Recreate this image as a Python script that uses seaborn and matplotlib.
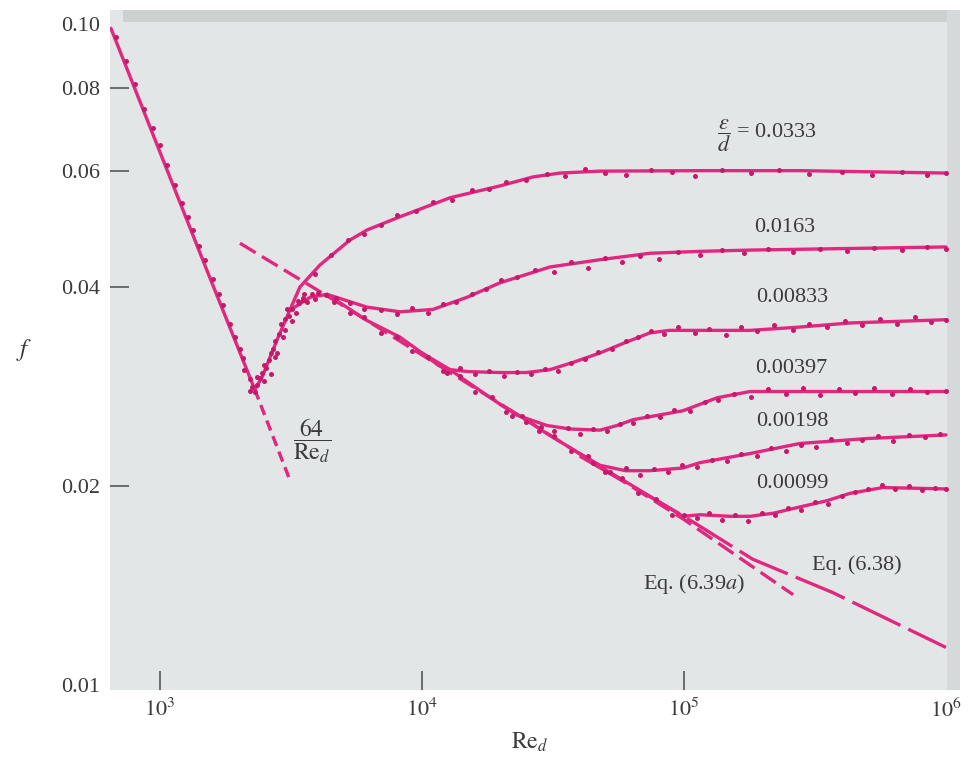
import matplotlib
matplotlib.use("Agg")
import matplotlib.pyplot as plt
from matplotlib.patches import Rectangle
import seaborn as sns

# ---- curves (Re_d, f) ----
lam_re = [650, 1000, 1500, 2300]
lam_f = [0.0985, 0.0640, 0.0427, 0.0280]
lam_ext_re = [2300, 3150]
lam_ext_f = [0.0280, 0.0203]

trans_re = [2300, 2450, 2800, 3130, 3740, 4340]
trans_f = [0.0280, 0.0292, 0.0333, 0.0369, 0.0386, 0.0390]

rough0333_re = [3130, 3420, 4080, 5300, 6170, 8240, 12800, 19850, 26500, 33600, 47800, 115000, 280000, 1000000]
rough0333_f = [0.0369, 0.0400, 0.0432, 0.0471, 0.0488, 0.0511, 0.0546, 0.0569, 0.0587, 0.0595, 0.0599, 0.0600, 0.0600, 0.0595]

rough0163_re = [4340, 6170, 8240, 11000, 14850, 19850, 30800, 47800, 74100, 115000, 178600, 1000000]
rough0163_f = [0.0390, 0.0373, 0.0367, 0.0370, 0.0386, 0.0406, 0.0429, 0.0440, 0.0450, 0.0453, 0.0455, 0.0460]

smooth_re = [4340, 5000, 6170, 8240, 10000, 12800, 15000, 19850, 25000, 30000, 40000, 47800, 60000, 74100, 99100]
smooth_f = [0.0390, 0.0376, 0.0356, 0.0336, 0.0318, 0.0300, 0.0287, 0.0266, 0.0252, 0.0240, 0.0224, 0.0214, 0.0203, 0.0193, 0.0180]

rough00833_re = [10000, 11500, 12800, 15000, 19850, 25000, 30800, 38000, 47800, 60000, 74100, 88000, 133700, 178600, 277300, 430400, 1000000]
rough00833_f = [0.0318, 0.0305, 0.0300, 0.0298, 0.0297, 0.0297, 0.0300, 0.0308, 0.0318, 0.0330, 0.0341, 0.0344, 0.0344, 0.0344, 0.0348, 0.0353, 0.0357]

rough00397_re = [19850, 23070, 30000, 36700, 47800, 55500, 63900, 99100, 133700, 178600, 370700, 1000000]
rough00397_f = [0.0266, 0.0256, 0.0247, 0.0244, 0.0243, 0.0247, 0.0252, 0.0260, 0.0272, 0.0278, 0.0278, 0.0278]

rough00198_re = [40000, 47800, 60000, 74100, 99100, 115100, 178600, 277300, 499000, 1000000]
rough00198_f = [0.0224, 0.0215, 0.0211, 0.0211, 0.0213, 0.0217, 0.0224, 0.0232, 0.0236, 0.0239]

rough00099_re = [99100, 115100, 150000, 178600, 220000, 277300, 350000, 430400, 575000, 1000000]
rough00099_f = [0.0180, 0.0181, 0.0180, 0.0180, 0.0182, 0.0186, 0.0190, 0.0195, 0.0199, 0.0198]

eq638_re = [40000, 100000, 183000, 370000, 1000000]
eq638_f = [0.0222, 0.0180, 0.0155, 0.0138, 0.0114]
eq639a_re = [2020, 5000, 20000, 100000, 261000]
eq639a_f = [0.0466, 0.0375, 0.0266, 0.0178, 0.0137]

# ---- measured points (scatter around the curves) ----
pts_lam_re = [680, 740, 803, 870, 940, 1000, 1063, 1141, 1213, 1280, 1337, 1410, 1486, 1593, 1680, 1739, 1850,
              1931, 2020, 2080]
pts_lam_f = [0.0955, 0.0880, 0.0812, 0.0745, 0.0695, 0.0655, 0.0612, 0.0570, 0.0536, 0.0510, 0.0488, 0.0462,
             0.0440, 0.0412, 0.0390, 0.0376, 0.0352, 0.0336, 0.0322, 0.0312]

pts_trans_re = [2100, 2200, 2250, 2300, 2350, 2400, 2450, 2500, 2550, 2600, 2650, 2700, 2750, 2800, 2850,
                2900, 3000, 3000, 3100, 3200, 3200, 3300, 3400, 3500, 3650, 3800, 4000, 4300,
                2200, 2350, 2500, 2650, 2750, 2950, 3050, 3350, 3550, 3900]
pts_trans_f = [0.0300, 0.0290, 0.0282, 0.0278, 0.0284, 0.0291, 0.0297, 0.0288, 0.0302, 0.0310, 0.0295, 0.0322,
               0.0331, 0.0318, 0.0340, 0.0352, 0.0358, 0.0345, 0.0362, 0.0371, 0.0355, 0.0366, 0.0378, 0.0383,
               0.0380, 0.0390, 0.0392, 0.0389,
               0.0279, 0.0292, 0.0305, 0.0318, 0.0314, 0.0336, 0.0370, 0.0381, 0.0390, 0.0384]

pts_0333_re = [3500, 3900, 4500, 5200, 6000, 7000, 8000, 9500, 11000, 13000, 15500, 18000, 21000, 25000, 30000,
               35000, 42000, 50000, 60000, 75000, 90000, 110000, 140000, 180000, 230000, 300000, 400000, 520000,
               680000, 850000, 1000000]
pts_0333_f = [0.0385, 0.0418, 0.0447, 0.0472, 0.0481, 0.0497, 0.0515, 0.0522, 0.0538, 0.0541, 0.0560, 0.0562,
              0.0576, 0.0580, 0.0594, 0.0588, 0.0603, 0.0596, 0.0590, 0.0602, 0.0597, 0.0588, 0.0601, 0.0596,
              0.0602, 0.0593, 0.0598, 0.0590, 0.0597, 0.0592, 0.0596]

pts_0163_re = [4700, 5300, 6000, 7000, 8000, 9200, 10500, 12000, 13500, 15500, 17500, 20000, 23000, 27000, 32000,
               37000, 43000, 50000, 58000, 68000, 80000, 95000, 115000, 140000, 170000, 210000, 260000, 330000,
               420000, 530000, 680000, 850000, 1000000]
pts_0163_f = [0.0385, 0.0378, 0.0371, 0.0369, 0.0364, 0.0372, 0.0366, 0.0377, 0.0380, 0.0391, 0.0397, 0.0410,
              0.0414, 0.0425, 0.0422, 0.0436, 0.0427, 0.0442, 0.0437, 0.0446, 0.0441, 0.0452, 0.0447, 0.0455,
              0.0450, 0.0456, 0.0452, 0.0457, 0.0453, 0.0459, 0.0455, 0.0460, 0.0457]

pts_smooth_re = [4600, 5300, 6000, 7000, 8000, 9200, 10500, 12000, 14000, 16000, 18500, 21000, 24000, 28000,
                 32000, 37000, 43000, 50000, 58000, 67000, 78000, 90000]
pts_smooth_f = [0.0380, 0.0366, 0.0360, 0.0341, 0.0336, 0.0320, 0.0314, 0.0299, 0.0293, 0.0278, 0.0273, 0.0259,
                0.0255, 0.0242, 0.0238, 0.0226, 0.0222, 0.0210, 0.0206, 0.0195, 0.0191, 0.0181]

pts_00833_re = [12500, 14000, 16000, 18000, 20500, 23000, 26000, 29500, 33000, 37000, 42000, 47000, 53000, 60000,
                67000, 75000, 84000, 95000, 110000, 125000, 145000, 165000, 190000, 220000, 260000, 300000,
                350000, 410000, 480000, 560000, 650000, 760000, 880000, 1000000]
pts_00833_f = [0.0297, 0.0302, 0.0295, 0.0299, 0.0293, 0.0298, 0.0295, 0.0301, 0.0299, 0.0307, 0.0311, 0.0319,
               0.0322, 0.0331, 0.0336, 0.0343, 0.0340, 0.0348, 0.0341, 0.0346, 0.0339, 0.0348, 0.0343, 0.0350,
               0.0345, 0.0352, 0.0348, 0.0356, 0.0350, 0.0358, 0.0352, 0.0360, 0.0354, 0.0357]

pts_00397_re = [22000, 25000, 28500, 32000, 36000, 40000, 45000, 51000, 57000, 64000, 72000, 81000, 92000, 105000,
                120000, 135000, 155000, 180000, 210000, 245000, 285000, 330000, 390000, 450000, 530000, 620000,
                730000, 850000, 1000000]
pts_00397_f = [0.0255, 0.0250, 0.0246, 0.0242, 0.0245, 0.0240, 0.0244, 0.0242, 0.0248, 0.0249, 0.0255, 0.0254,
               0.0261, 0.0260, 0.0268, 0.0270, 0.0276, 0.0273, 0.0280, 0.0276, 0.0281, 0.0275, 0.0280, 0.0277,
               0.0281, 0.0276, 0.0280, 0.0278, 0.0279]

pts_00198_re = [45000, 52000, 60000, 68000, 77000, 87000, 98000, 112000, 128000, 146000, 165000, 190000, 215000,
                245000, 280000, 320000, 365000, 420000, 480000, 550000, 630000, 720000, 830000, 950000]
pts_00198_f = [0.0217, 0.0210, 0.0213, 0.0208, 0.0212, 0.0210, 0.0215, 0.0214, 0.0219, 0.0218, 0.0224, 0.0222,
               0.0228, 0.0226, 0.0231, 0.0229, 0.0236, 0.0232, 0.0235, 0.0238, 0.0234, 0.0239, 0.0237, 0.0240]

pts_00099_re = [100000, 112000, 125000, 140000, 157000, 176000, 198000, 222000, 250000, 280000, 315000, 355000,
                400000, 450000, 505000, 570000, 640000, 720000, 810000, 910000, 1000000]
pts_00099_f = [0.0181, 0.0179, 0.0182, 0.0178, 0.0181, 0.0177, 0.0182, 0.0181, 0.0185, 0.0184, 0.0189, 0.0188,
               0.0193, 0.0196, 0.0198, 0.0201, 0.0198, 0.0200, 0.0197, 0.0199, 0.0198]

x_ticks = [1e3, 1e4, 1e5, 1e6]
x_labels = [r'$10^3$', r'$10^4$', r'$10^5$', r'$10^6$']
y_ticks = [0.01, 0.02, 0.04, 0.06, 0.08, 0.10]
y_labels = ['0.01', '0.02', '0.04', '0.06', '0.08', '0.10']

LINE = '#e0287f'
MARK = '#c51a6b'
TEXT = '#3a3a3a'
W, H = 972, 761

sns.set_style('white')
plt.rcParams['font.family'] = ['Liberation Serif', 'DejaVu Serif']
plt.rcParams['mathtext.fontset'] = 'stix'

fig = plt.figure(figsize=(W / 100, H / 100), dpi=100)
ax = fig.add_axes([110 / W, 71 / H, 850 / W, 680 / H])
ax.set_facecolor('#e3e6e7')
ax.set_xscale('log')
ax.set_yscale('log')

solid = [(lam_re, lam_f), (trans_re, trans_f), (rough0333_re, rough0333_f), (rough0163_re, rough0163_f),
         (smooth_re, smooth_f), (rough00833_re, rough00833_f), (rough00397_re, rough00397_f),
         (rough00198_re, rough00198_f), (rough00099_re, rough00099_f)]
for xs, ys in solid:
    sns.lineplot(x=xs, y=ys, ax=ax, color=LINE, lw=2.4, sort=False, estimator=None, zorder=2)

sns.lineplot(x=lam_ext_re, y=lam_ext_f, ax=ax, color=LINE, lw=2.4, sort=False, estimator=None,
             linestyle=(0, (3.2, 1.8)), zorder=2)
sns.lineplot(x=eq639a_re, y=eq639a_f, ax=ax, color=LINE, lw=2.4, sort=False, estimator=None,
             linestyle=(0, (5.5, 2.2)), zorder=2)
sns.lineplot(x=eq638_re, y=eq638_f, ax=ax, color=LINE, lw=2.4, sort=False, estimator=None,
             linestyle=(0, (16, 2.6)), zorder=2)

points = [(pts_lam_re, pts_lam_f), (pts_trans_re, pts_trans_f), (pts_0333_re, pts_0333_f),
          (pts_0163_re, pts_0163_f), (pts_smooth_re, pts_smooth_f), (pts_00833_re, pts_00833_f),
          (pts_00397_re, pts_00397_f), (pts_00198_re, pts_00198_f), (pts_00099_re, pts_00099_f)]
for xs, ys in points:
    sns.scatterplot(x=xs, y=ys, ax=ax, color=MARK, s=13, linewidth=0, legend=False, zorder=3)

ax.set_xlim(644.6, 1.131e6)
ax.set_ylim(0.00983, 0.1050)
ax.set_xticks(x_ticks)
ax.set_xticklabels(x_labels)
ax.set_yticks(y_ticks)
ax.set_yticklabels(y_labels)
ax.minorticks_off()
ax.tick_params(axis='both', which='major', bottom=True, left=True, direction='in', length=14, width=1.1,
               color='#4a4a4a', labelsize=16, labelcolor=TEXT)
ax.tick_params(axis='x', pad=6)
ax.tick_params(axis='y', pad=7)
ax.xaxis.get_major_ticks()[3].tick1line.set_visible(False)
ax.yaxis.get_major_ticks()[0].tick1line.set_visible(False)
ax.yaxis.get_major_ticks()[5].tick1line.set_visible(False)
for sp in ax.spines.values():
    sp.set_visible(False)
ax.set_xlabel('')
ax.set_ylabel('')

# darker scan edges of the panel
ax.add_patch(Rectangle((13 / 850, 1 - 12 / 680), 837 / 850, 12 / 680, transform=ax.transAxes,
                       color='#ccd1d0', lw=0, zorder=1))
ax.add_patch(Rectangle((837 / 850, 0), 13 / 850, 1, transform=ax.transAxes, color='#d5d9d9', lw=0, zorder=1))


def ftext(px, py, s, **kw):
    kw.setdefault('ha', 'center')
    kw.setdefault('va', 'center')
    kw.setdefault('color', TEXT)
    kw.setdefault('fontsize', 16)
    fig.text(px / W, 1 - py / H, s, **kw)


ftext(767, 136, r'$\dfrac{\epsilon}{d}$ = 0.0333')
ftext(785, 228, '0.0163')
ftext(792, 298, '0.00833')
ftext(791, 369, '0.00397')
ftext(792, 422, '0.00198')
ftext(792, 483, '0.00099')
ftext(857, 565, 'Eq. (6.38)')
ftext(694, 584, r'Eq. (6.39$a$)')
ftext(312, 441, r'$\dfrac{64}{\mathrm{Re}_d}$', fontsize=17)
ftext(24, 350, r'$f$', fontsize=18)
ftext(530, 749, r'$\mathrm{Re}_d$', va='baseline', fontsize=17)

fig.savefig('out.png', dpi=100)
